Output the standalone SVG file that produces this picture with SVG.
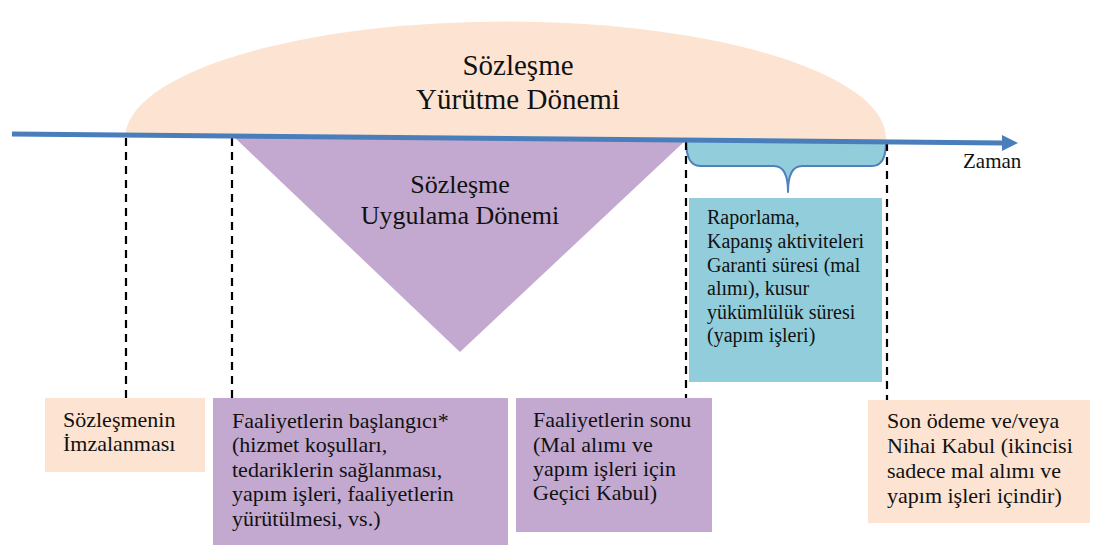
<svg xmlns="http://www.w3.org/2000/svg" width="1101" height="548" viewBox="0 0 1101 548" font-family="'Liberation Serif', 'Times New Roman', 'DejaVu Serif', serif">
<defs>
<style>
text{font-family:'Liberation Serif','Times New Roman','DejaVu Serif',serif;fill:#111;}
.big{font-size:29px;text-anchor:middle;}
.mid{font-size:26px;text-anchor:middle;}
.box{font-size:22px;}
.bl{font-size:20px;}
.dash{stroke:#000;stroke-width:2.2;stroke-dasharray:8,6;fill:none;}
.peach{fill:#FDE4D2;}
.purple{fill:#C3A9CF;}
.blue{fill:#92CDDC;}
</style>
</defs>
<rect width="1101" height="548" fill="#fff"/>
<g id="yurutme">
<path class="peach" d="M125,137 A380.5,117 0 0 1 886,140 Z"/>
<text class="big" x="518" y="75">Sözleşme</text>
<text class="big" x="518" y="109">Yürütme Dönemi</text>
</g>
<g id="uygulama">
<polygon class="purple" points="233,136 686,140 460,352"/>
<text class="mid" x="460" y="193">Sözleşme</text>
<text class="mid" x="460" y="224">Uygulama Dönemi</text>
</g>
<g id="brace">
<path class="blue" stroke="#4F81BD" stroke-width="2" d="M686,140 Q686,166 700,166 L774,166 Q788,166 788,192 Q788,166 802,166 L872,166 Q886,166 886,142 Z" stroke-linejoin="round"/>
</g>
<g id="connectors">
<line class="dash" x1="126" y1="138" x2="126" y2="398"/>
<line class="dash" x1="232" y1="138" x2="232" y2="398"/>
<line class="dash" x1="686" y1="142" x2="686" y2="398"/>
<line class="dash" x1="887" y1="143" x2="887" y2="400"/>
<line x1="12" y1="134" x2="1004" y2="143" stroke="#4A7EBB" stroke-width="5"/>
<polygon points="1002,135 1018,143 1002,151" fill="#4A7EBB"/>
</g>
<g id="zaman">
<text x="963" y="168" font-size="21">Zaman</text>
</g>
<g id="kapanis">
<rect class="blue" x="689" y="198" width="193" height="184"/>
<text class="bl" x="707" y="224">Raporlama,</text>
<text class="bl" x="707" y="248">Kapanış aktiviteleri</text>
<text class="bl" x="707" y="272">Garanti süresi (mal</text>
<text class="bl" x="707" y="295">alımı), kusur</text>
<text class="bl" x="707" y="319">yükümlülük süresi</text>
<text class="bl" x="707" y="342">(yapım işleri)</text>
</g>
<g id="imza">
<rect class="peach" x="45" y="398" width="160" height="74"/>
<text class="box" x="63" y="427">Sözleşmenin</text>
<text class="box" x="63" y="451">İmzalanması</text>
</g>
<g id="baslangic">
<rect class="purple" x="213" y="398" width="295" height="147"/>
<text class="box" x="232" y="428">Faaliyetlerin başlangıcı*</text>
<text class="box" x="232" y="452">(hizmet koşulları,</text>
<text class="box" x="232" y="477">tedariklerin sağlanması,</text>
<text class="box" x="232" y="501">yapım işleri, faaliyetlerin</text>
<text class="box" x="232" y="526">yürütülmesi, vs.)</text>
</g>
<g id="sonu">
<rect class="purple" x="516" y="398" width="196" height="134"/>
<text class="box" x="533" y="427">Faaliyetlerin sonu</text>
<text class="box" x="533" y="452">(Mal alımı ve</text>
<text class="box" x="533" y="476">yapım işleri için</text>
<text class="box" x="533" y="500">Geçici Kabul)</text>
</g>
<g id="nihai">
<rect class="peach" x="868" y="400" width="222" height="123"/>
<text class="box" x="887" y="428">Son ödeme ve/veya</text>
<text class="box" x="887" y="453">Nihai Kabul (ikincisi</text>
<text class="box" x="887" y="478">sadece mal alımı ve</text>
<text class="box" x="887" y="503">yapım işleri içindir)</text>
</g>
</svg>
